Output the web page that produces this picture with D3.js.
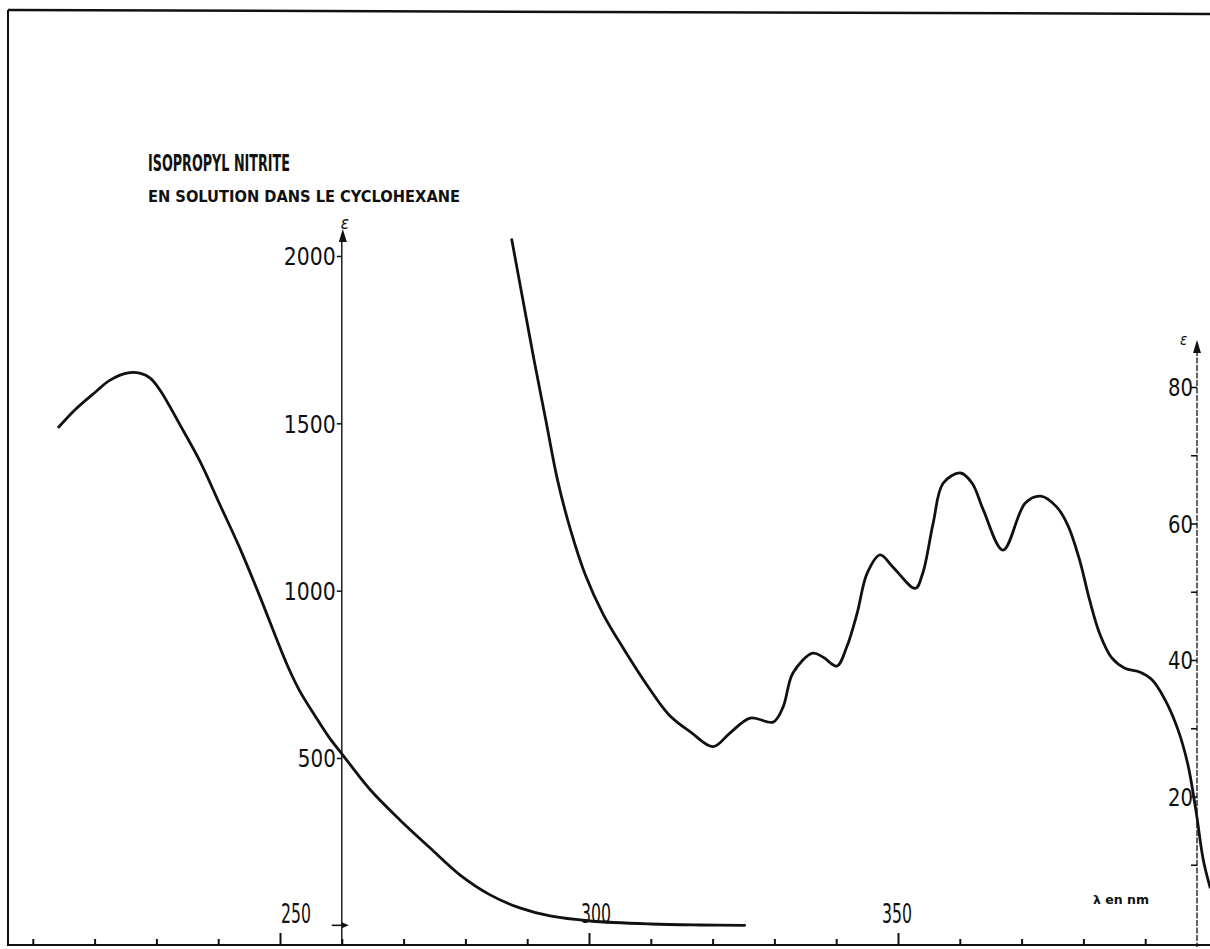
<!DOCTYPE html>
<html>
<head>
<meta charset="utf-8">
<script src="https://cdn.jsdelivr.net/npm/d3@7/dist/d3.min.js"></script>
<style>
  html, body { margin: 0; padding: 0; background: #fff; }
  svg { display: block; }
  text { font-family: "DejaVu Sans Condensed", "Liberation Sans Narrow", "DejaVu Sans", sans-serif; fill: #111; }
</style>
</head>
<body>
<svg id="chart" width="1210" height="949"></svg>
<script>
// Wavelength ticks (nm) along the bottom axis
const wavelengthTicks = [210, 220, 230, 240, 250, 260, 270, 280, 290, 300, 310, 320, 330, 340, 350, 360, 370, 380, 390];
const wavelengthLabels = [250, 300, 350];

// Molar absorption coefficient ticks: left axis (strong band), right axis (weak band)
const epsLeftTicks = [500, 1000, 1500, 2000];
const epsRightTicks = [10, 20, 30, 40, 50, 60, 70, 80];
const epsRightLabels = [20, 40, 60, 80];

// Strong UV band, read against the left axis
const uvNm  = [214.2, 216.8, 220.1, 222.5, 225.2, 227.3, 229.0, 230.6, 233.8, 237.1, 240.3, 243.5, 246.8, 250.0, 251.6, 253.2, 255.7, 258.0, 260.2, 264.6, 269.4, 274.3, 279.1, 284.0, 288.8, 293.7, 300.2, 309.9, 318.0, 325.2];
const uvEps = [1489, 1540, 1593, 1629, 1650, 1650, 1635, 1599, 1496, 1385, 1256, 1127, 980, 830, 760, 700, 625, 560, 508, 405, 315, 231, 151, 91, 52, 28, 13, 4, 1, 0];

// Weak structured band, read against the right axis
const visNm  = [287.5, 289.3, 291.1, 293.0, 294.9, 297.0, 299.4, 302.3, 305.7, 309.4, 313.0, 316.5, 320.1, 322.8, 326.1, 329.8, 331.4, 333.0, 336.2, 337.9, 340.1, 341.7, 343.4, 345.0, 347.1, 349.2, 352.8, 354.0, 355.7, 357.3, 360.1, 362.0, 363.8, 367.0, 370.6, 373.1, 375.7, 377.5, 379.4, 381.0, 382.7, 384.6, 386.7, 389.2, 391.1, 393.2, 395.3, 396.9, 398.2, 399.4, 400.5];
const visEps = [101.6, 92.8, 84.0, 75.2, 66.4, 59.1, 52.5, 46.7, 41.5, 36.3, 31.9, 29.4, 27.3, 29.3, 31.5, 30.9, 33.1, 38.1, 41.0, 40.4, 39.1, 41.9, 46.9, 52.7, 55.4, 53.6, 50.5, 52.7, 60.1, 65.9, 67.4, 65.9, 62.0, 56.1, 63.0, 64.0, 62.4, 59.7, 54.6, 48.8, 43.7, 40.3, 38.8, 38.2, 37.1, 34.2, 29.8, 24.7, 18.0, 10.7, 6.7];

const svg = d3.select("#chart");

// Layout
const frameLeft = 8, frameTop = 10, baseY = 945, W = 1210;
const leftAxisNm = 260;        // left ε axis stands at 260 nm
const rightAxisX = 1197;
const labelShift = { 250: 16, 300: 7, 350: -1 };

const x = d3.scaleLinear().domain([250, 350]).range([280, 898]);
const yL = d3.scaleLinear().domain([500, 2000]).range([758, 256]);
const yR = d3.scaleLinear().domain([0, 80]).range([933, 387]);

const ink = "#111";

// Frame: top and left borders
svg.append("line").attr("x1", frameLeft).attr("y1", frameTop).attr("x2", W).attr("y2", frameTop + 4)
  .attr("stroke", ink).attr("stroke-width", 2.5);
svg.append("line").attr("x1", frameLeft).attr("y1", frameTop).attr("x2", frameLeft).attr("y2", baseY + 1)
  .attr("stroke", ink).attr("stroke-width", 2);

// Bottom wavelength axis, ticks pointing up
const xAxis = svg.append("g").attr("transform", `translate(0,${baseY})`)
  .call(d3.axisTop(x).tickValues(wavelengthTicks).tickSize(6).tickFormat(""));
xAxis.select(".domain").remove();
xAxis.selectAll(".tick line").attr("stroke", ink).attr("stroke-width", 2)
  .attr("y2", d => wavelengthLabels.includes(d) ? -12 : -6);
svg.append("line").attr("x1", frameLeft).attr("y1", baseY).attr("x2", W).attr("y2", baseY)
  .attr("stroke", ink).attr("stroke-width", 2.2);

svg.append("g").selectAll("text").data(wavelengthLabels).join("text")
  .attr("x", d => x(d) + labelShift[d]).attr("y", baseY - 22)
  .attr("text-anchor", "middle").attr("font-size", 26)
  .attr("textLength", 30).attr("lengthAdjust", "spacingAndGlyphs")
  .text(d => d);

svg.append("text").attr("x", 1093).attr("y", 904).attr("font-size", 12).attr("font-weight", "bold")
  .attr("textLength", 56).attr("lengthAdjust", "spacingAndGlyphs")
  .attr("font-family", "DejaVu Sans").text("λ en nm");

// Left ε axis
const lx = x(leftAxisNm);
svg.append("line").attr("x1", lx).attr("y1", 238).attr("x2", lx).attr("y2", baseY)
  .attr("stroke", ink).attr("stroke-width", 1.4);
svg.append("path").attr("d", `M${lx + 1},229 L${lx - 3},242 L${lx + 5},242 Z`).attr("fill", ink);
svg.append("text").attr("x", lx - 1).attr("y", 229).attr("font-size", 17).attr("font-style", "italic")
  .attr("font-family", "DejaVu Serif").text("ε");
const leftAxis = svg.append("g").attr("transform", `translate(${lx},0)`)
  .call(d3.axisLeft(yL).tickValues(epsLeftTicks).tickSize(5).tickPadding(1).tickFormat(d3.format("d")));
leftAxis.select(".domain").remove();
leftAxis.selectAll(".tick line").attr("stroke", ink).attr("stroke-width", 1.5);
leftAxis.selectAll(".tick text")
  .attr("font-family", "DejaVu Sans Condensed, Liberation Sans Narrow, sans-serif")
  .attr("font-size", 25).attr("fill", ink).attr("dy", "0.35em")
  .attr("textLength", d => d >= 1000 ? 52 : 38).attr("lengthAdjust", "spacingAndGlyphs");
// zero marker at the foot of the left axis
svg.append("line").attr("x1", lx - 10).attr("y1", yL(0)).attr("x2", lx + 2).attr("y2", yL(0))
  .attr("stroke", ink).attr("stroke-width", 1.6);
svg.append("path").attr("d", `M${lx + 7},${yL(0)} L${lx},${yL(0) - 3} L${lx},${yL(0) + 3} Z`).attr("fill", ink);

// Right ε axis
svg.append("line").attr("x1", rightAxisX).attr("y1", 350).attr("x2", rightAxisX).attr("y2", baseY + 2)
  .attr("stroke", ink).attr("stroke-width", 1.3).attr("stroke-dasharray", "6,1.5");
svg.append("path").attr("d", `M${rightAxisX},340 L${rightAxisX - 4},353 L${rightAxisX + 4},353 Z`).attr("fill", ink);
svg.append("text").attr("x", 1180).attr("y", 345).attr("font-size", 15).attr("font-style", "italic")
  .attr("font-family", "DejaVu Serif").text("ε");
const rightAxis = svg.append("g").attr("transform", `translate(${rightAxisX},0)`)
  .call(d3.axisLeft(yR).tickValues(epsRightTicks).tickSize(6).tickFormat(""));
rightAxis.select(".domain").remove();
rightAxis.selectAll(".tick line").attr("stroke", ink).attr("stroke-width", 1.6);
svg.append("g").selectAll("text").data(epsRightLabels).join("text")
  .attr("x", rightAxisX - 4).attr("y", d => yR(d) + 9)
  .attr("text-anchor", "end").attr("font-size", 25)
  .attr("textLength", 25).attr("lengthAdjust", "spacingAndGlyphs")
  .text(d => d);

// Title
svg.append("text").attr("x", 148).attr("y", 171).attr("font-size", 23).attr("font-weight", "bold")
  .attr("textLength", 142).attr("lengthAdjust", "spacingAndGlyphs").text("ISOPROPYL NITRITE");
svg.append("text").attr("x", 148).attr("y", 202).attr("font-size", 15).attr("font-weight", "bold")
  .attr("textLength", 312).attr("lengthAdjust", "spacingAndGlyphs").text("EN SOLUTION DANS LE CYCLOHEXANE");

// Spectra
const curve = d3.curveCatmullRom.alpha(0.5);
const uvLine = d3.line().x((d, i) => x(uvNm[i])).y(d => yL(d)).curve(curve);
const visLine = d3.line().x((d, i) => x(visNm[i])).y(d => yR(d)).curve(curve);

svg.append("path").attr("d", uvLine(uvEps))
  .attr("fill", "none").attr("stroke", ink).attr("stroke-width", 2.8).attr("stroke-linecap", "round");
svg.append("path").attr("d", visLine(visEps))
  .attr("fill", "none").attr("stroke", ink).attr("stroke-width", 2.8).attr("stroke-linecap", "round");
</script>
</body>
</html>
